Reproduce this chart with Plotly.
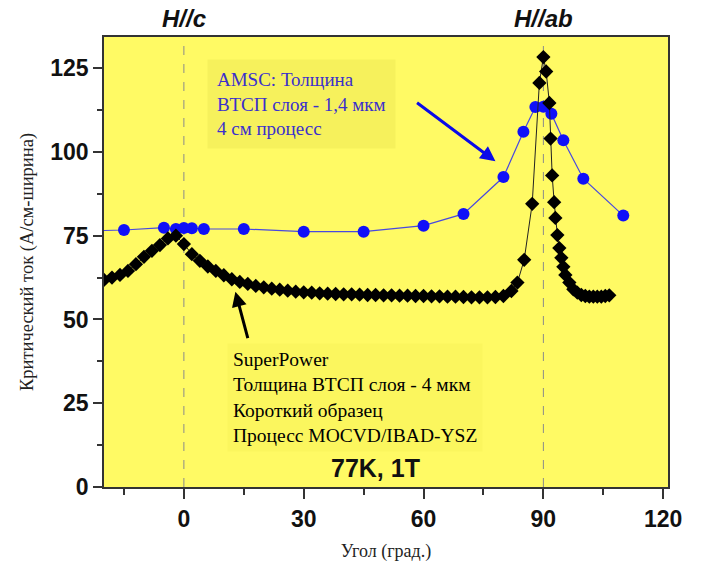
import plotly.graph_objects as go

# AMSC series (blue circles)
amsc_angle = [-22, -15, -5, -2, 0, 2, 5, 15, 30, 45, 60, 70, 80, 85, 88, 90, 92, 95, 100, 110]
amsc_ic = [76.5, 76.7, 77.4, 77.0, 77.3, 77.2, 77.0, 77.0, 76.2, 76.2, 78.0, 81.5, 92.5, 106.0, 113.4, 113.5, 111.4, 103.5, 92.0, 81.0]

# SuperPower series (black diamonds)
sp_angle = [-20, -18, -16, -14, -12, -10, -8, -6, -4, -2, 0, 2, 4, 6, 8, 10, 12, 14, 16, 18,
            20, 22, 24, 26, 28, 30, 32, 34, 36, 38, 40, 42, 44, 46, 48, 50, 52, 54, 56, 58,
            60, 62, 64, 66, 68, 70, 72, 74, 76, 78, 80, 82, 83.5, 85.2, 87.2, 89, 90, 90.7,
            91.5, 91.8, 92.2, 92.7, 93, 93.5, 94, 94.5, 95, 95.5, 96.5, 97.5, 98.5, 99.5,
            100.5, 101.5, 102.5, 103.5, 104.5, 105.5, 106.5]
sp_ic = [61.8, 62.5, 63.3, 64.5, 66.5, 68.7, 70.5, 72.2, 74.2, 75.0, 72.5, 69.5, 67.5, 65.8, 64.5, 63.2, 62.0, 61.2, 60.6, 60.0,
         59.6, 59.2, 58.9, 58.6, 58.3, 58.1, 58.0, 57.8, 57.7, 57.6, 57.5, 57.5, 57.4, 57.3, 57.3, 57.2, 57.2, 57.1, 57.1, 57.0,
         57.0, 56.9, 56.9, 56.8, 56.8, 56.7, 56.6, 56.6, 56.6, 56.7, 57.0, 58.5, 61.0, 67.8, 84.5, 120.6, 128.3, 124.0,
         114.6, 104.0, 93.0, 85.0, 80.3, 75.2, 71.3, 68.4, 65.7, 63.3, 61.0, 59.0, 58.0, 57.3,
         57.0, 56.8, 56.8, 56.8, 56.8, 57.0, 57.2]

x_ticks = [0, 30, 60, 90, 120]
y_ticks = [0, 25, 50, 75, 100, 125]
ref_angles = [0, 90]
ref_labels = ["H//c", "H//ab"]

fig = go.Figure()

for a in ref_angles:
    fig.add_shape(type="line", xref="x", yref="paper", x0=a, x1=a, y0=0, y1=1,
                  line=dict(color="#8a8a8a", width=1, dash="dash"), layer="below")

fig.add_trace(go.Scatter(x=amsc_angle, y=amsc_ic, mode="lines+markers",
                         line=dict(color="#4848E0", width=1.2),
                         marker=dict(symbol="circle", size=12, color="#1010F8"),
                         showlegend=False))
fig.add_trace(go.Scatter(x=sp_angle, y=sp_ic, mode="lines+markers",
                         line=dict(color="#222222", width=1),
                         marker=dict(symbol="diamond", size=11, color="#000000"),
                         showlegend=False))

for a, lab in zip(ref_angles, ref_labels):
    fig.add_annotation(x=a, y=1, xref="x", yref="paper", yanchor="middle", yshift=19,
                       showarrow=False, text="<b><i>%s</i></b>" % lab,
                       font=dict(family="Liberation Sans", size=24, color="#111111"))

# AMSC text box
fig.add_annotation(x=5.9, y=114.2, xref="x", yref="y", xanchor="left", yanchor="middle",
                   showarrow=False, align="left",
                   text="AMSC: Толщина<br>ВТСП слоя - 1,4 мкм<br>4 см процесс",
                   font=dict(family="Liberation Serif", size=19, color="#3B30CC"),
                   bgcolor="#F6F15C", borderpad=9)
# blue arrow
fig.add_annotation(x=78, y=97.2, ax=58, ay=115, xref="x", yref="y", axref="x", ayref="y",
                   showarrow=True, arrowhead=2, arrowsize=1, arrowwidth=3, arrowcolor="#0A0AE8", text="")

# SuperPower text box
fig.add_annotation(x=10.9, y=26.8, xref="x", yref="y", xanchor="left", yanchor="middle",
                   showarrow=False, align="left",
                   text="SuperPower<br>Толщина ВТСП слоя - 4 мкм<br>Короткий образец<br>Процесс MOCVD/IBAD-YSZ",
                   font=dict(family="Liberation Serif", size=19.5, color="#000000"),
                   bgcolor="#FBF65E", borderpad=5)
# black arrow
fig.add_annotation(x=12.9, y=58.3, ax=16.1, ay=44, xref="x", yref="y", axref="x", ayref="y",
                   showarrow=True, arrowhead=2, arrowsize=1, arrowwidth=3, arrowcolor="#000000", text="")

fig.add_annotation(x=48, y=5.7, xref="x", yref="y", showarrow=False,
                   text="<b>77K, 1T</b>",
                   font=dict(family="Liberation Sans", size=25, color="#111111"))

axis_common = dict(showline=True, mirror=True, linecolor="#333333", linewidth=1.8,
                   showgrid=False, zeroline=False, ticks="outside", tickcolor="#333333",
                   tickwidth=1.5, automargin=False,
                   tickfont=dict(family="Liberation Sans", size=23, color="#111111", weight="bold"))

fig.update_layout(
    width=701, height=562,
    margin=dict(l=104, r=33, t=37, b=75, autoexpand=False),
    paper_bgcolor="white",
    plot_bgcolor="#FFFA64",
    xaxis=dict(range=[-20, 121.2], tickvals=x_ticks, ticklen=10,
               minor=dict(ticks="outside", ticklen=6, dtick=15, tick0=-15, tickcolor="#333333"),
               title=dict(text="Угол (град.)", standoff=22,
                          font=dict(family="Liberation Serif", size=18, color="#222222")),
               **axis_common),
    yaxis=dict(range=[0, 134.3], tickvals=y_ticks, ticklen=9,
               minor=dict(ticks="outside", ticklen=5, dtick=12.5, tickcolor="#333333"),
               title=dict(text="Критический ток (А/см-ширина)", standoff=12,
                          font=dict(family="Liberation Serif", size=18.5, color="#222222")),
               **axis_common),
)

fig.write_html("out.html", config={"displayModeBar": False},
               post_script="document.body.style.margin='0';document.body.style.padding='0';document.body.style.overflow='hidden';")
